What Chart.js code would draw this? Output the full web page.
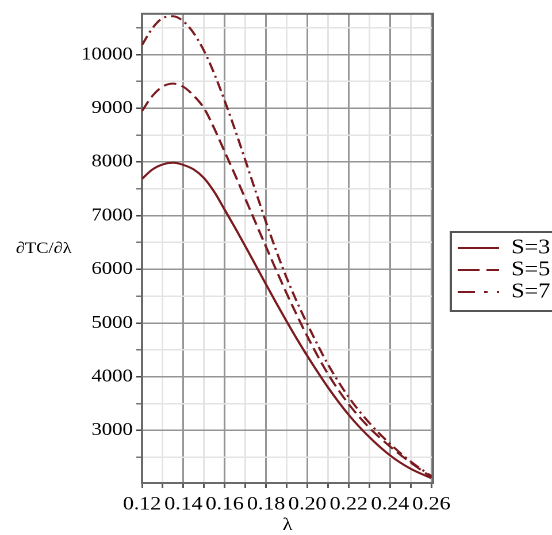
<!DOCTYPE html>
<html><head><meta charset="utf-8">
<script src="https://cdn.jsdelivr.net/npm/chart.js@4.4.0/dist/chart.umd.min.js"></script>
<style>
html,body{margin:0;padding:0;background:#fff;overflow:hidden;}
#wrap{width:480px;height:535px;transform:scaleX(1.15);transform-origin:0 0;}
canvas{display:block;}
</style></head><body>
<div id="wrap"><canvas id="c" width="480" height="535" style="width:480px;height:535px"></canvas></div>
<script>
const lambdaValues = [0.12,0.125,0.13,0.135,0.14,0.145,0.15,0.155,0.16,0.165,0.17,0.175,0.18,0.185,0.19,0.195,0.20,0.21,0.22,0.23,0.24,0.25,0.26];
const seriesS3 = [7685,7860,7955,7985,7945,7860,7700,7440,7110,6775,6430,6075,5720,5370,5030,4700,4385,3800,3290,2875,2535,2285,2110];
const seriesS5 = [8950,9230,9405,9460,9400,9235,9000,8620,8190,7760,7315,6865,6420,5980,5550,5140,4750,4050,3490,3050,2700,2400,2130];
const seriesS7 = [10180,10490,10680,10715,10620,10400,10070,9640,9140,8600,8030,7450,6880,6340,5840,5390,4980,4230,3620,3140,2750,2420,2150];
const seriesNames = ['S=3','S=5','S=7'];
const xTickValues = [0.12,0.13,0.14,0.15,0.16,0.17,0.18,0.19,0.20,0.21,0.22,0.23,0.24,0.25,0.26];
const xTickLabels = ['0.12','0.14','0.16','0.18','0.20','0.22','0.24','0.26'];
const yTickValues = [2500,3000,3500,4000,4500,5000,5500,6000,6500,7000,7500,8000,8500,9000,9500,10000,10500];
const yTickLabels = ['3000','4000','5000','6000','7000','8000','9000','10000'];
const xTitle = 'λ';
const yTitle = '∂TC/∂λ';

const LINE = '#7a1a1e';
const FONT = 'Liberation Serif';
const plotDash = [[], [11,5], [10,4,2,4]];
const legendDash = [[], [19,6], [15,8,3,8]];

function isMajorX(v){ return xTickLabels.some(l => Math.abs(parseFloat(l) - v) < 1e-6); }
function isMajorY(v){ return yTickLabels.some(l => Math.abs(parseFloat(l) - v) < 1e-6); }

const allSeries = [seriesS3, seriesS5, seriesS7];
const datasets = allSeries.map((s, i) => ({
  label: seriesNames[i],
  data: lambdaValues.map((x, j) => ({x: x, y: s[j]})),
  borderColor: LINE,
  backgroundColor: LINE,
  borderWidth: 2,
  borderDash: plotDash[i],
  pointRadius: 0,
  fill: false,
  cubicInterpolationMode: 'monotone'
}));

const legendShift = {
  id: 'legendShift',
  afterLayout(chart) {
    const l = chart.legend;
    const ca = chart.chartArea;
    const dx = (ca.right + 20.5) - l.left;
    l.left += dx; l.right = chart.width + 10;
    const cy = 270, h = 90;
    l.top = cy - h/2; l.bottom = cy + h/2;
  },
  beforeDatasetsDraw(chart) {
    const {ctx, chartArea: a} = chart;
    ctx.save();
    ctx.strokeStyle = '#6a6a6a';
    ctx.lineWidth = 2;
    ctx.strokeRect(a.left, a.top, a.right - a.left, a.bottom - a.top);
    ctx.restore();
  },
  afterDraw(chart) {
    const {ctx} = chart;
    const l = chart.legend;
    ctx.save();
    ctx.strokeStyle = '#555';
    ctx.lineWidth = 2;
    ctx.strokeRect(l.left - 5, 232, 200, 79);
    ctx.fillStyle = '#000';
    ctx.font = '16px "' + FONT + '"';
    ctx.textAlign = 'center';
    ctx.textBaseline = 'middle';
    ctx.fillText(yTitle, 38, 249);
    ctx.restore();
  }
};

new Chart(document.getElementById('c'), {
  type: 'line',
  data: { datasets },
  plugins: [legendShift],
  options: {
    responsive: false,
    devicePixelRatio: 2,
    animation: false,
    layout: { padding: { top: 11, left: 0, right: 23.5, bottom: 0 } },
    plugins: {
      tooltip: { enabled: false },
      legend: {
        position: 'right',
        align: 'center',
        maxWidth: 80,
        labels: {
          usePointStyle: true,
          pointStyle: 'line',
          pointStyleWidth: 36,
          padding: 1,
          color: '#000',
          font: { family: FONT, size: 21 },
          generateLabels(chart) {
            const items = Chart.defaults.plugins.legend.labels.generateLabels(chart);
            items.forEach((it, i) => { it.lineDash = legendDash[i]; it.lineWidth = 2; it.strokeStyle = LINE; });
            return items;
          }
        }
      }
    },
    scales: {
      x: {
        type: 'linear',
        min: 0.12, max: 0.2608,
        afterBuildTicks: s => { s.ticks = xTickValues.map(v => ({value: v})); },
        afterFit: s => { s.height = 52; },
        ticks: {
          autoSkip: false, maxRotation: 0, padding: 5,
          color: '#000',
          font: { family: FONT, size: 19 },
          callback: v => { const l = xTickLabels.find(t => Math.abs(parseFloat(t) - v) < 1e-6); return l === undefined ? '' : l; }
        },
        grid: {
          color: c => isMajorX(c.tick.value) ? '#959595' : '#e4e4e4',
          lineWidth: 1.5,
          tickLength: 5,
          tickColor: '#555',
          drawTicks: true
        },
        border: { color: '#555', width: 2 },
        title: { display: true, text: xTitle, color: '#000', font: { family: FONT, size: 18 }, padding: { top: 0, bottom: -1 } }
      },
      y: {
        type: 'linear',
        min: 2020, max: 10760,
        afterBuildTicks: s => { s.ticks = yTickValues.map(v => ({value: v})); },
        afterFit: s => { s.width = 123.5; },
        ticks: {
          autoSkip: false, padding: 3,
          color: '#000',
          font: { family: FONT, size: 18 },
          callback: v => { const l = yTickLabels.find(t => Math.abs(parseFloat(t) - v) < 1e-6); return l === undefined ? '' : l; }
        },
        grid: {
          color: c => isMajorY(c.tick.value) ? '#959595' : '#e4e4e4',
          lineWidth: 1.5,
          tickLength: 5,
          tickColor: c => isMajorY(c.tick.value) ? '#444' : '#777',
          drawTicks: true
        },
        border: { color: '#555', width: 2 }
      }
    }
  }
});
</script>
</body></html>
